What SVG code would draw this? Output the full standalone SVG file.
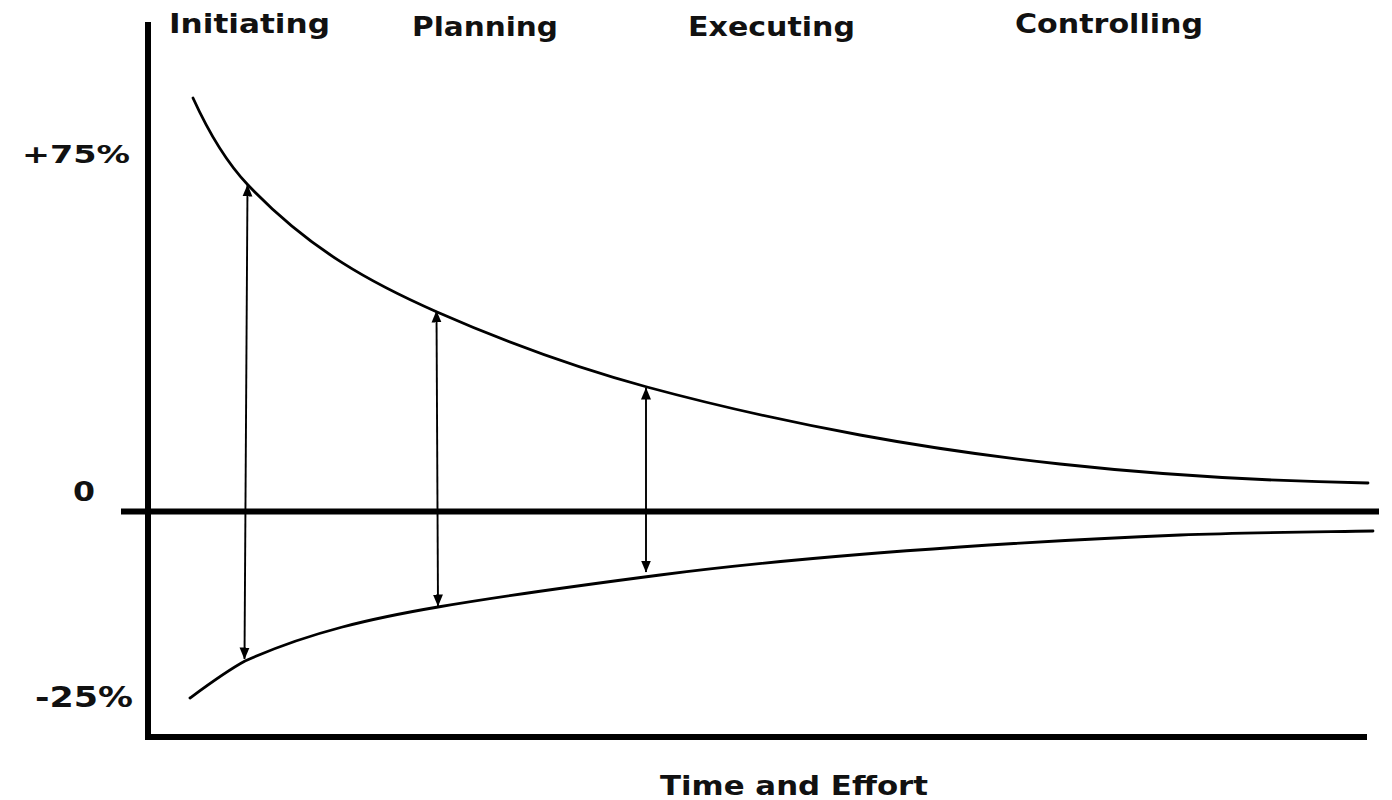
<svg xmlns="http://www.w3.org/2000/svg" width="1392" height="800" viewBox="0 0 1392 800">
<style>
.lbl{font-family:"DejaVu Sans","Liberation Sans",sans-serif;font-weight:bold;fill:#111;}
.axis{stroke:#000;stroke-width:6;fill:none;}
.curve{stroke:#000;stroke-width:2.8;fill:none;stroke-linecap:round;}
.arr{stroke:#000;stroke-width:1.9;fill:none;marker-start:url(#ah);marker-end:url(#ah);}
</style>
<defs>
<marker id="ah" markerUnits="userSpaceOnUse" markerWidth="12" markerHeight="11" refX="11.5" refY="5.5" orient="auto-start-reverse" viewBox="0 0 12 11">
<path d="M0,0.5 L12,5.5 L0,10.5 Z" fill="#000"/>
</marker>
</defs>
<rect width="1392" height="800" fill="#fff"/>
<g id="axes">
<line class="axis" x1="148" y1="22" x2="148" y2="740"/>
<line class="axis" x1="145" y1="737" x2="1367" y2="737"/>
<line class="axis" x1="121" y1="511.5" x2="1379" y2="511.5"/>
</g>
<g id="upper-curve">
<path class="curve" d="M193,98 C211.33,138.3 229.67,165.75 248,185 C311,251.15 374,284.3 437,312 C507,342.8 577,368.1 647,387 C718,406.2 789,421.9 860,435 C926.67,447.3 993.33,456.7 1060,464 C1162.67,475.3 1265.33,481 1368,483"/>
</g>
<g id="lower-curve">
<path class="curve" d="M190,698 C208.33,684.5 226.67,670.9 245,661 C309.33,632.05 373.67,617.94 438,607 C512,594.4 586,584.6 660,575 C760,562 860,553.8 960,547 C1033.33,542 1106.67,537.9 1180,535 C1244.33,532.4 1308.67,532 1373,531"/>
</g>
<g id="connectors">
<line class="arr" x1="247.5" y1="185" x2="244.5" y2="659"/>
<line class="arr" x1="436.5" y1="311" x2="438" y2="606"/>
<line class="arr" x1="646" y1="388" x2="646" y2="572"/>
</g>
<g id="phase-initiating"><text class="lbl" x="169" y="33" font-size="27" textLength="161" lengthAdjust="spacingAndGlyphs">Initiating</text></g>
<g id="phase-planning"><text class="lbl" x="412" y="36" font-size="27" textLength="146" lengthAdjust="spacingAndGlyphs">Planning</text></g>
<g id="phase-executing"><text class="lbl" x="688" y="36" font-size="27" textLength="167" lengthAdjust="spacingAndGlyphs">Executing</text></g>
<g id="phase-controlling"><text class="lbl" x="1015" y="33" font-size="27" textLength="188" lengthAdjust="spacingAndGlyphs">Controlling</text></g>
<g id="label-75"><text class="lbl" x="22" y="163" font-size="25" textLength="108" lengthAdjust="spacingAndGlyphs">+75%</text></g>
<g id="label-0"><text class="lbl" x="73" y="501" font-size="26" textLength="22" lengthAdjust="spacingAndGlyphs">0</text></g>
<g id="label-25"><text class="lbl" x="35" y="707" font-size="29" textLength="98" lengthAdjust="spacingAndGlyphs">-25%</text></g>
<g id="x-title"><text class="lbl" x="660" y="795" font-size="27" textLength="268" lengthAdjust="spacingAndGlyphs">Time and Effort</text></g>
</svg>
